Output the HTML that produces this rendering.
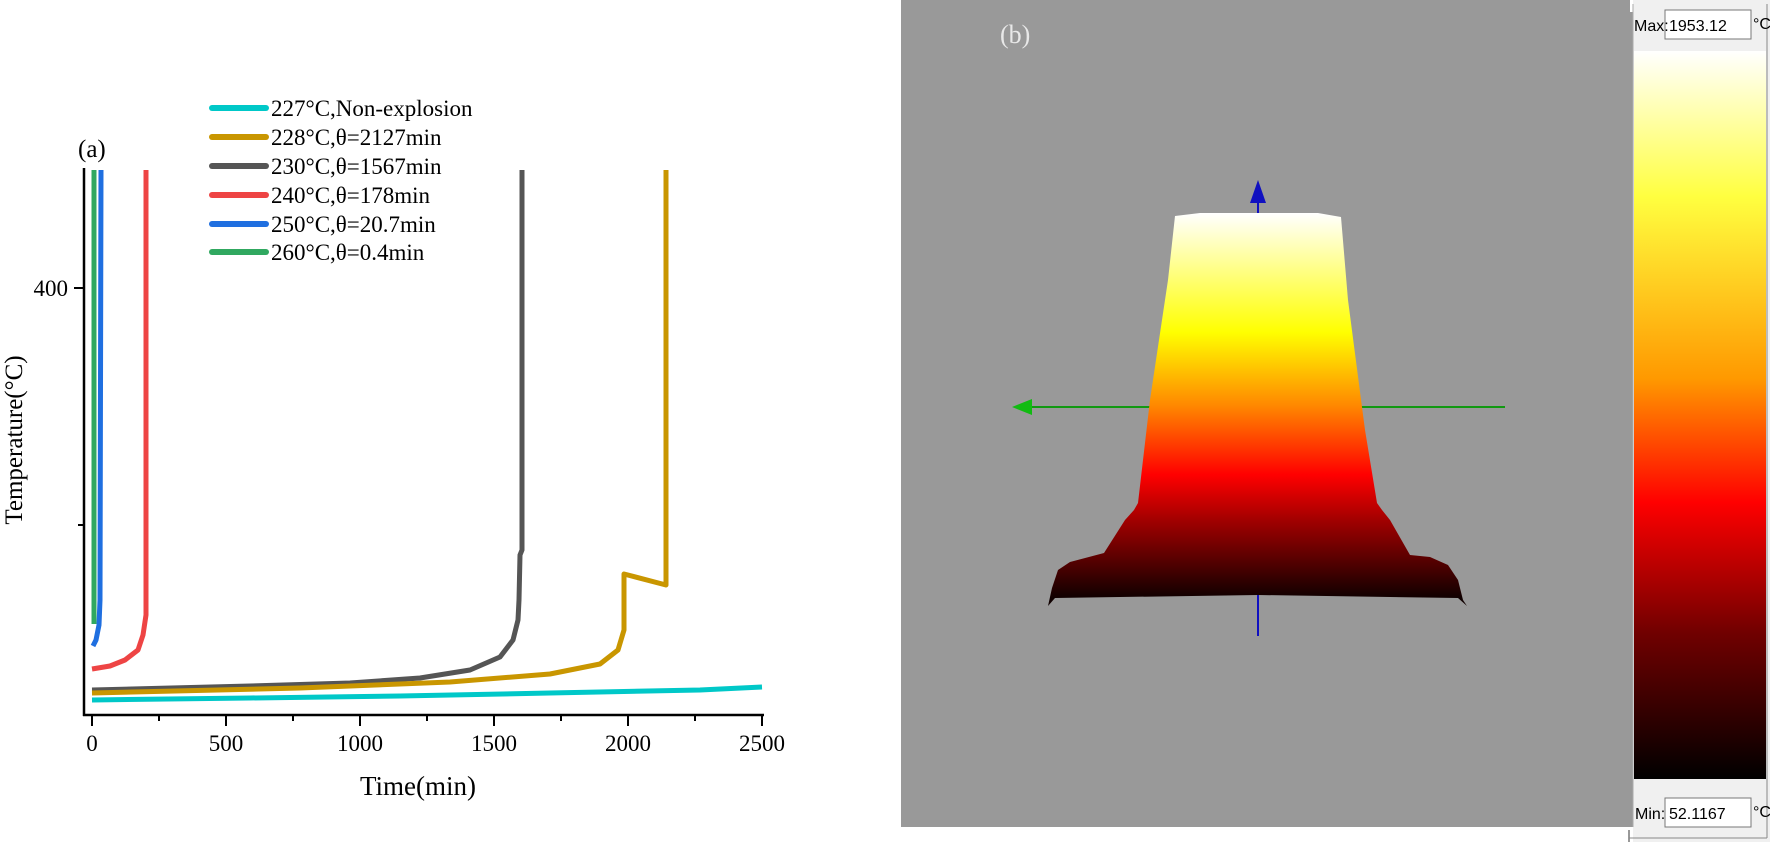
<!DOCTYPE html>
<html><head><meta charset="utf-8"><style>
html,body{margin:0;padding:0;background:#fff;width:1770px;height:842px;overflow:hidden}
svg{display:block}
</style></head><body>
<svg width="1770" height="842" viewBox="0 0 1770 842" xmlns="http://www.w3.org/2000/svg">
<defs>
<linearGradient id="sg" x1="0" y1="213" x2="0" y2="598" gradientUnits="userSpaceOnUse">
<stop offset="0" stop-color="#ffffff"/>
<stop offset="0.31" stop-color="#ffff00"/>
<stop offset="0.5" stop-color="#ff8800"/>
<stop offset="0.68" stop-color="#ff0000"/>
<stop offset="0.8" stop-color="#a00000"/>
<stop offset="1" stop-color="#100000"/>
</linearGradient>
<linearGradient id="cb" x1="0" y1="0" x2="0" y2="1">
<stop offset="0" stop-color="#ffffff"/>
<stop offset="0.2" stop-color="#ffff40"/>
<stop offset="0.45" stop-color="#ff9900"/>
<stop offset="0.62" stop-color="#ff0000"/>
<stop offset="0.8" stop-color="#700000"/>
<stop offset="1" stop-color="#000000"/>
</linearGradient>
</defs>
<g font-family="Liberation Serif, serif" fill="#000">
<line x1="84" y1="168" x2="84" y2="716" stroke="#000" stroke-width="2.5"/>
<line x1="83" y1="715" x2="764" y2="715" stroke="#000" stroke-width="2.5"/>
<g stroke="#000" stroke-width="2">
<line x1="92" y1="715" x2="92" y2="726"/><line x1="159" y1="715" x2="159" y2="721"/>
<line x1="226" y1="715" x2="226" y2="726"/><line x1="293" y1="715" x2="293" y2="721"/>
<line x1="360" y1="715" x2="360" y2="726"/><line x1="427" y1="715" x2="427" y2="721"/>
<line x1="494" y1="715" x2="494" y2="726"/><line x1="561" y1="715" x2="561" y2="721"/>
<line x1="628" y1="715" x2="628" y2="726"/><line x1="695" y1="715" x2="695" y2="721"/>
<line x1="762" y1="715" x2="762" y2="726"/>
<line x1="74" y1="288" x2="84" y2="288"/><line x1="78" y1="525" x2="84" y2="525"/>
</g>
<g font-size="23" text-anchor="middle">
<text x="92" y="751">0</text><text x="226" y="751">500</text><text x="360" y="751">1000</text>
<text x="494" y="751">1500</text><text x="628" y="751">2000</text><text x="762" y="751">2500</text>
</g>
<text x="68" y="296" font-size="23" text-anchor="end">400</text>
<text x="418" y="795" font-size="27" text-anchor="middle">Time(min)</text>
<text transform="translate(22,440) rotate(-90)" font-size="25" text-anchor="middle">Temperature(°C)</text>
<text x="78" y="157" font-size="25">(a)</text>
<g fill="none" stroke-width="5" stroke-linejoin="round">
<polyline stroke="#00c8c8" points="92,700 250,698 400,696 550,693 700,690 762,687"/>
<polyline stroke="#555555" points="92,690 250,686 350,683 420,678 470,670 500,657 513,640 518,620 519,600 520,555 522,550 522,170"/>
<polyline stroke="#c99600" points="92,693 300,688 450,682 550,674 600,664 618,650 624,630 624,574 666,585 666,170"/>
<polyline stroke="#ee4444" points="92,669 110,666 125,660 138,650 143,635 146,615 146,170"/>
<polyline stroke="#1f6fe0" points="93,646 96,640 99,625 100,600 101,170"/>
<polyline stroke="#30a860" points="94,624 94,170"/>
</g>
<g stroke-width="6" stroke-linecap="round">
<line x1="212" y1="108" x2="266" y2="108" stroke="#00c8c8"/>
<line x1="212" y1="137" x2="266" y2="137" stroke="#c99600"/>
<line x1="212" y1="166" x2="266" y2="166" stroke="#555555"/>
<line x1="212" y1="195" x2="266" y2="195" stroke="#ee4444"/>
<line x1="212" y1="224" x2="266" y2="224" stroke="#1f6fe0"/>
<line x1="212" y1="252" x2="266" y2="252" stroke="#30a860"/>
</g>
<g font-size="23">
<text x="271" y="116">227°C,Non-explosion</text>
<text x="271" y="145">228°C,θ=2127min</text>
<text x="271" y="174">230°C,θ=1567min</text>
<text x="271" y="203">240°C,θ=178min</text>
<text x="271" y="232">250°C,θ=20.7min</text>
<text x="271" y="260">260°C,θ=0.4min</text>
</g>
</g>
<rect x="901" y="0" width="732" height="827" fill="#999999"/>
<rect x="1633" y="0" width="137" height="842" fill="#f0f0f0"/>
<line x1="1629" y1="830" x2="1629" y2="842" stroke="#999" stroke-width="2"/>
<rect x="1630" y="0" width="3" height="12" fill="#fff"/>
<line x1="1633" y1="4" x2="1633" y2="827" stroke="#aaa" stroke-width="1"/>
<line x1="1767" y1="4" x2="1767" y2="838" stroke="#888" stroke-width="1"/>
<line x1="1629" y1="838" x2="1767" y2="838" stroke="#888" stroke-width="1"/>
<rect x="1634" y="51" width="132" height="728" fill="url(#cb)"/>
<rect x="1665" y="10" width="86" height="29" fill="#fff" stroke="#777"/>
<rect x="1665" y="798" width="86" height="29" fill="#fff" stroke="#777"/>
<g font-family="Liberation Sans, sans-serif" font-size="16" fill="#000">
<text x="1634" y="31">Max:</text><text x="1669" y="31">1953.12</text><text x="1753" y="29">°C</text>
<text x="1635" y="819">Min:</text><text x="1669" y="819">52.1167</text><text x="1753" y="817">°C</text>
</g>
<text x="1000" y="43" font-family="Liberation Serif, serif" font-size="26" fill="#e8e8e8">(b)</text>
<line x1="1025" y1="407" x2="1505" y2="407" stroke="#119911" stroke-width="2"/>
<polygon points="1012,407 1032,399 1032,415" fill="#11bb11"/>
<line x1="1258" y1="595" x2="1258" y2="636" stroke="#1010c0" stroke-width="2"/>
<path d="M1175,216 L1200,213 L1318,213 L1341,217 L1348,300 L1365,430 L1377,503 L1382,510 L1390,520 L1410,555 L1430,557 L1448,565 L1458,580 L1463,600 L1467,606 L1458,598 L1258,595 L1055,598 L1048,606 L1052,588 L1058,570 L1070,562 L1104,553 L1125,520 L1134,510 L1138,503 L1150,400 L1168,280 Z" fill="url(#sg)"/>
<line x1="1258" y1="190" x2="1258" y2="213" stroke="#1010c0" stroke-width="2"/>
<polygon points="1258,180 1250,203 1266,203" fill="#1010c0"/>
</svg>
</body></html>
